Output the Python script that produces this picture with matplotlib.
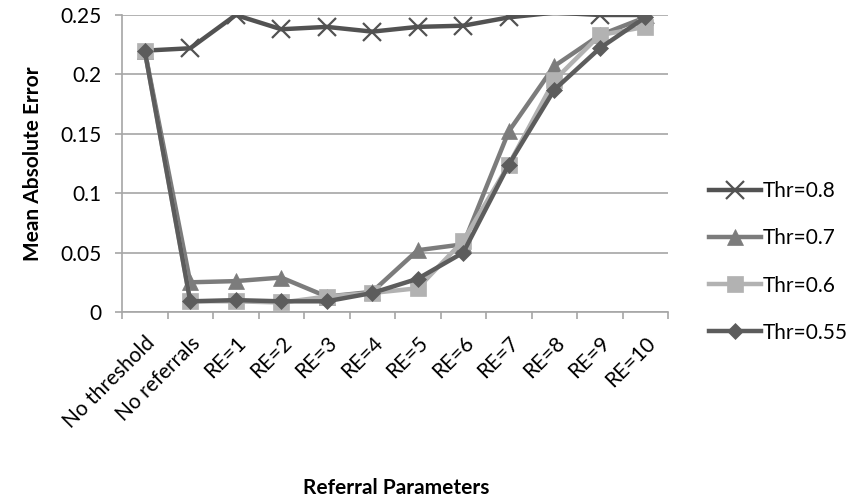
import numpy as np
import matplotlib.pyplot as plt

plt.rcParams['font.family'] = ['Lato', 'DejaVu Sans']

categories = ["No threshold", "No referrals", "RE=1", "RE=2", "RE=3", "RE=4",
              "RE=5", "RE=6", "RE=7", "RE=8", "RE=9", "RE=10"]

thr_08 = [0.220, 0.222, 0.250, 0.238, 0.240, 0.236, 0.240, 0.241, 0.248, 0.252, 0.250, 0.250]
thr_07 = [0.220, 0.025, 0.026, 0.029, 0.013, 0.017, 0.052, 0.057, 0.152, 0.207, 0.233, 0.248]
thr_06 = [0.220, 0.009, 0.009, 0.008, 0.013, 0.016, 0.020, 0.060, 0.124, 0.195, 0.233, 0.240]
thr_055 = [0.220, 0.009, 0.010, 0.009, 0.009, 0.016, 0.028, 0.050, 0.124, 0.187, 0.222, 0.248]

# name, values, colour, marker, size, which points get a marker
# (Thr=0.8: first marker is hidden under the others, RE=8 lies above the axis)
series = [
    ("Thr=0.8", thr_08, "#525252", "x", 13, [1, 2, 3, 4, 5, 6, 7, 8, 10, 11]),
    ("Thr=0.7", thr_07, "#7c7c7c", "^", 11, None),
    ("Thr=0.6", thr_06, "#b2b2b2", "s", 11, None),
    ("Thr=0.55", thr_055, "#5c5c5c", "D", 8, None),
]

fig = plt.figure(figsize=(8.59, 5.0), dpi=100)
ax = fig.add_axes([122 / 859, 1 - 312 / 500, (668 - 122) / 859, (312 - 15) / 500])

x = np.arange(len(categories))
for name, vals, color, marker, ms, every in series:
    ax.plot(x, vals, color=color, lw=3.2, marker=marker, ms=ms, markevery=every,
            markeredgewidth=1.6 if marker == "x" else 0.5,
            markeredgecolor=color, label=name, solid_joinstyle="round")

ax.set_ylim(0, 0.25)
ax.set_xlim(-0.5, len(categories) - 0.5)
ax.set_yticks(np.arange(0, 0.2501, 0.05))
ax.set_yticklabels(["0", "0.05", "0.1", "0.15", "0.2", "0.25"])
ax.yaxis.grid(True, color="#a6a6a6", lw=1.2)
ax.set_axisbelow(True)

ax.set_xticks(x)
ax.set_xticklabels(categories, rotation=45, ha="right", rotation_mode="anchor")
ax.set_xticks(np.arange(-0.5, len(categories), 1), minor=True)
ax.tick_params(axis="x", which="major", length=0, pad=15, labelsize=15)
ax.tick_params(axis="x", which="minor", length=5, width=1.2, color="#a6a6a6")
ax.tick_params(axis="y", length=5, width=1.2, color="#a6a6a6", labelsize=15, pad=10)

for side in ["top", "right"]:
    ax.spines[side].set_visible(False)
for side in ["left", "bottom"]:
    ax.spines[side].set_color("#a6a6a6")
    ax.spines[side].set_linewidth(1.2)

ax.set_ylabel("Mean Absolute Error", fontsize=15, fontweight="bold", labelpad=12)
fig.text(396 / 859, 1 - 488 / 500, "Referral Parameters", fontsize=15,
         fontweight="bold", ha="center", va="center")

ax.legend(loc="center left", bbox_to_anchor=(690 / 859, 1 - 262 / 500),
          bbox_transform=fig.transFigure, frameon=False, fontsize=15,
          handlelength=2.5, handletextpad=0.1, labelspacing=1.3)

fig.savefig("out.png", dpi=100)
